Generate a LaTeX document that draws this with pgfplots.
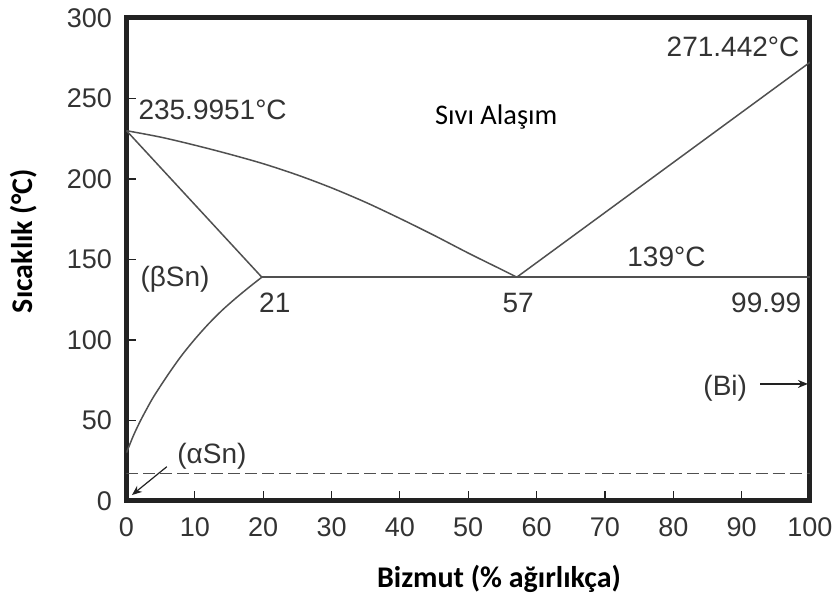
\documentclass[border=0pt]{standalone}
\usepackage{fontspec}
\setmainfont{Liberation Sans}
\newfontfamily\calibri{Carlito}
\usepackage{pgfplots}
\pgfplotsset{compat=1.18}
\usetikzlibrary{arrows.meta}

\definecolor{linegray}{HTML}{505050}
\definecolor{txtgray}{HTML}{333333}
\definecolor{framecol}{HTML}{222222}

\tikzset{
    phase/.style = {linegray, line width=0.75pt},
    lbl/.style = {font=\fontsize{14}{16}\selectfont, text=txtgray, inner sep=0pt},
}

\begin{document}
\begin{tikzpicture}
\useasboundingbox (-63.25pt,-49pt) rectangle (355.25pt,250.5pt);
\begin{axis}[
    at={(0,0)}, anchor=south west,
    scale only axis, width=341.75pt, height=241.5pt,
    xmin=0, xmax=100, ymin=0, ymax=300,
    xtick={0,10,...,100}, ytick={0,50,...,300},
    tick align=inside, xtick pos=bottom, ytick pos=left,
    major tick length=5pt,
    tick style={framecol, line width=0.6pt},
    axis line style={framecol, line width=2.5pt},
    ticklabel style={font=\fontsize{13.5}{16}\selectfont, text=txtgray},
    /pgf/number format/assume math mode=true,
    xticklabel style={yshift=-5pt},
    yticklabel style={xshift=-3.75pt},
    xlabel={Bizmut (\% ağırlıkça)},
    ylabel={Sıcaklık (°C)},
    label style={font=\calibri\bfseries\fontsize{15}{18}\selectfont},
    xlabel style={at={(axis description cs:0.545,-0.1615)}, anchor=center},
    ylabel style={at={(axis description cs:-0.1507,0.538)}, anchor=center},
]
    % liquidus (Sn side)
    \addplot[phase, smooth] coordinates {
        (0,230) (5,226) (10,221) (15,215.5) (20,209.5) (25,202.5)
        (30,194.5) (35,185.5) (40,175.5) (45,165) (50,154)
        (55,143.5) (57.1,139)
    };
    % liquidus (Bi side)
    \addplot[phase] coordinates {(57.1,139) (100,272.5)};
    % solidus
    \addplot[phase] coordinates {(0,230) (19.8,139)};
    % eutectic line
    \addplot[phase] coordinates {(19.8,139) (100,139)};
    % solvus
    \addplot[phase, smooth] coordinates {
        (0,30) (1,40.5) (2,49.5) (3,57.5) (4,65) (6,78) (8,90)
        (10,100.5) (12,110) (14,118.5) (16,126) (18,133) (19.8,139)
    };
    % alpha/beta transformation
    \addplot[phase, dash pattern=on 6pt off 2.5pt] coordinates {(0,17) (100,17)};

    \node[lbl, anchor=west] at (axis cs:1.7,243) {235.9951°C};
    \node[lbl, anchor=east] at (axis cs:98.5,282) {271.442°C};
    \node[lbl, font=\calibri\fontsize{14.2}{16}\selectfont, text=black] at (axis cs:54.1,238.5) {Sıvı Alaşım};
    \node[lbl] at (axis cs:79,151.6) {139°C};
    \node[lbl] at (axis cs:7.1,138) {(βSn)};
    \node[lbl] at (axis cs:21.7,123) {21};
    \node[lbl] at (axis cs:57.3,123) {57};
    \node[lbl] at (axis cs:93.6,123) {99.99};
    \node[lbl] at (axis cs:12.5,28) {(αSn)};
    \node[lbl] at (axis cs:87.6,70.2) {(Bi)};
    \draw[framecol, line width=0.6pt, -{Stealth[length=5pt,width=4pt]}] (axis cs:92.7,72.7) -- (axis cs:99.7,72.7);
    \draw[framecol, line width=0.6pt, -{Stealth[length=5pt,width=4pt]}] (axis cs:5.9,21.3) -- (axis cs:0.8,3.7);
\end{axis}
\end{tikzpicture}
\end{document}
